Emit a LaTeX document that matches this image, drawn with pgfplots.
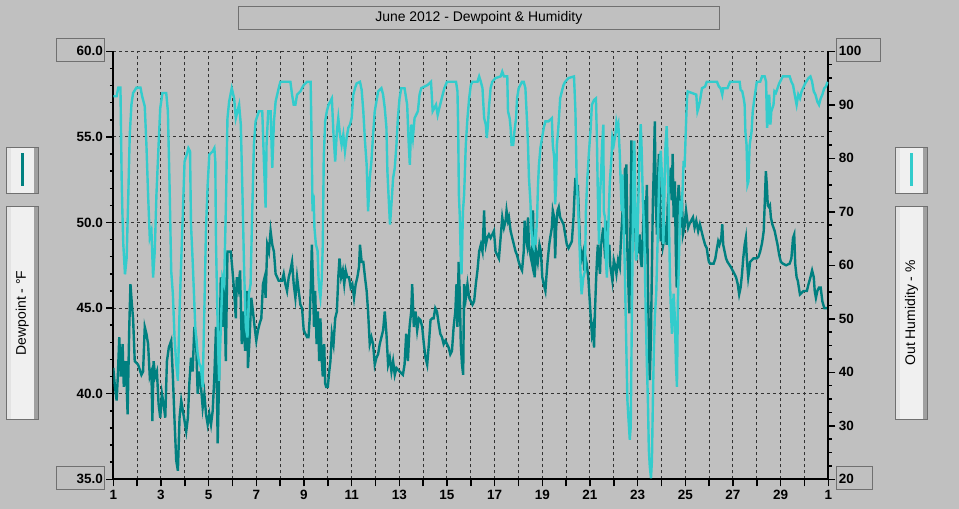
\documentclass[border=0pt]{standalone}
\usepackage{fontspec}
\setmainfont{Liberation Sans}
\usepackage{pgfplots}
\pgfplotsset{compat=1.18}
\usepackage{pgfplotstable}

\definecolor{bg}{HTML}{C0C0C0}
\definecolor{dewcol}{HTML}{008080}
\definecolor{humcol}{HTML}{33CCCC}
\definecolor{boxline}{HTML}{707070}
\definecolor{panel}{HTML}{F0F0F0}
\definecolor{panelL}{HTML}{E3E3E3}
\definecolor{panelD}{HTML}{A0A0A0}

% dewpoint (F), day of month
\pgfplotstableread{
day dew
1.00 41.5
1.07 40.4
1.14 39.6
1.19 41.0
1.25 43.3
1.32 41.0
1.39 42.9
1.44 40.4
1.53 41.9
1.60 38.8
1.67 43.9
1.72 46.4
1.78 45.2
1.83 44.4
1.90 41.9
2.04 41.7
2.18 41.1
2.25 41.3
2.32 43.9
2.39 43.5
2.46 42.9
2.53 41.0
2.60 41.3
2.64 38.4
2.69 41.9
2.76 41.0
2.83 41.3
2.90 39.4
2.97 38.6
3.04 40.0
3.11 39.4
3.18 38.6
3.25 41.9
3.33 42.7
3.43 43.1
3.50 41.0
3.57 38.4
3.64 36.1
3.71 35.5
3.78 38.6
3.85 39.6
3.92 39.0
3.99 38.4
4.06 37.8
4.13 38.6
4.19 40.6
4.26 42.1
4.33 41.3
4.40 43.9
4.47 43.3
4.54 40.0
4.61 41.3
4.68 40.4
4.75 39.2
4.82 40.0
4.89 38.8
4.96 38.2
5.03 38.8
5.10 38.2
5.17 39.0
5.24 41.0
5.31 43.9
5.38 37.1
5.44 41.0
5.51 46.8
5.58 43.9
5.65 46.8
5.72 41.9
5.79 48.3
5.93 48.3
6.00 47.2
6.07 46.0
6.14 44.4
6.18 46.8
6.25 46.2
6.32 47.2
6.39 42.9
6.46 44.8
6.53 42.5
6.60 46.0
6.65 41.5
6.72 43.3
6.79 45.6
6.86 44.8
6.93 43.9
7.00 43.1
7.07 43.7
7.14 44.1
7.21 44.4
7.28 46.4
7.35 46.8
7.39 45.6
7.46 48.7
7.53 48.3
7.60 49.5
7.67 48.7
7.74 48.3
7.81 47.0
7.94 46.6
8.08 46.6
8.15 47.0
8.22 46.4
8.29 46.0
8.36 46.8
8.43 47.2
8.50 47.7
8.57 46.4
8.64 45.6
8.71 46.8
8.78 46.0
8.85 45.2
8.92 45.0
8.99 43.7
9.13 43.3
9.19 43.3
9.24 44.4
9.29 46.4
9.33 48.7
9.38 46.4
9.42 43.9
9.47 46.0
9.53 42.9
9.58 44.8
9.64 41.9
9.69 44.4
9.75 41.9
9.79 41.0
9.85 42.9
9.89 40.6
9.93 40.4
10.00 40.4
10.06 41.3
10.11 41.9
10.17 43.5
10.24 42.9
10.31 44.4
10.38 44.8
10.44 46.8
10.49 47.9
10.56 46.8
10.63 47.2
10.69 46.4
10.75 47.2
10.82 46.8
10.89 46.8
10.96 46.2
11.03 46.4
11.10 45.6
11.17 46.4
11.24 46.8
11.31 47.4
11.35 48.7
11.42 47.7
11.49 47.7
11.56 46.8
11.63 46.0
11.69 44.8
11.76 42.9
11.83 43.3
11.90 42.9
11.97 41.7
12.04 42.1
12.11 42.3
12.18 42.9
12.25 43.3
12.32 43.7
12.39 44.8
12.46 43.5
12.53 41.7
12.60 42.1
12.67 41.3
12.74 41.9
12.81 41.1
12.88 41.5
13.01 41.3
13.15 41.1
13.22 41.7
13.29 43.5
13.36 41.9
13.43 43.9
13.50 44.8
13.54 46.4
13.61 43.9
13.68 44.8
13.75 43.7
13.82 44.4
13.89 44.3
13.96 43.9
14.03 42.9
14.10 42.1
14.17 41.7
14.24 42.9
14.31 44.3
14.38 44.4
14.44 44.4
14.51 45.0
14.58 44.8
14.65 44.1
14.72 43.5
14.79 43.3
14.86 42.9
14.93 43.1
15.00 42.9
15.07 42.7
15.14 42.3
15.21 42.5
15.28 43.9
15.35 44.8
15.40 46.4
15.44 43.9
15.49 47.7
15.54 45.8
15.58 42.9
15.63 41.7
15.68 41.1
15.72 46.4
15.79 45.6
15.86 46.4
15.93 45.6
16.00 45.4
16.07 45.2
16.14 45.4
16.21 46.4
16.28 47.2
16.35 48.3
16.42 48.7
16.49 48.3
16.56 50.7
16.58 49.5
16.63 48.7
16.69 49.1
16.76 49.3
16.83 49.1
16.97 49.5
17.04 48.3
17.11 48.1
17.18 47.9
17.25 49.1
17.32 50.3
17.39 49.7
17.46 50.1
17.50 50.7
17.56 50.1
17.60 50.3
17.67 49.5
17.74 49.1
17.81 48.7
17.88 48.3
17.94 48.1
18.01 47.7
18.08 47.4
18.15 47.2
18.22 48.3
18.26 50.1
18.31 49.1
18.36 48.7
18.40 50.3
18.44 48.7
18.50 48.1
18.57 47.6
18.61 50.7
18.64 47.7
18.68 46.8
18.74 48.3
18.81 47.7
18.88 48.7
18.94 48.3
19.00 46.8
19.06 46.4
19.13 46.0
19.17 46.8
19.22 47.7
19.29 48.7
19.33 49.1
19.40 49.7
19.44 50.7
19.50 50.3
19.54 47.9
19.58 49.7
19.64 50.7
19.69 50.9
19.75 50.3
19.82 50.1
19.89 49.9
19.96 49.3
20.03 48.7
20.10 48.5
20.17 48.7
20.24 48.9
20.31 50.3
20.35 51.6
20.39 52.6
20.44 51.6
20.49 52.2
20.53 50.7
20.58 48.7
20.65 47.9
20.72 48.3
20.76 47.2
20.82 47.9
20.86 47.6
20.93 46.8
21.00 45.2
21.04 44.3
21.08 43.5
21.13 43.9
21.17 42.7
21.21 44.8
21.25 46.4
21.29 47.7
21.33 48.7
21.38 47.7
21.42 47.0
21.46 48.7
21.50 49.1
21.56 49.7
21.60 48.7
21.64 47.9
21.69 50.1
21.72 49.3
21.76 48.2
21.81 48.7
21.85 47.5
21.94 46.6
22.00 47.8
22.07 47.4
22.11 47.0
22.18 47.8
22.25 47.4
22.29 48.7
22.33 49.7
22.39 51.3
22.43 51.7
22.47 53.2
22.50 49.3
22.53 53.4
22.57 48.4
22.61 46.4
22.65 44.7
22.69 48.7
22.74 54.8
22.78 49.3
22.81 53.2
22.85 54.2
22.89 50.3
22.94 47.8
22.99 48.9
23.03 48.2
23.08 49.3
23.13 47.8
23.17 47.4
23.22 49.3
23.26 51.3
23.31 48.2
23.35 50.9
23.39 52.2
23.43 46.4
23.47 43.5
23.51 40.8
23.56 43.5
23.60 47.4
23.64 51.3
23.68 53.2
23.72 55.9
23.76 51.3
23.81 49.3
23.85 52.2
23.89 54.0
23.93 51.3
23.97 48.9
24.01 49.7
24.06 48.6
24.10 48.9
24.14 49.7
24.18 49.3
24.22 48.7
24.26 50.9
24.31 52.2
24.35 51.7
24.39 53.2
24.43 51.3
24.47 54.0
24.51 50.3
24.56 52.4
24.60 48.4
24.64 46.2
24.68 51.3
24.72 52.2
24.76 51.3
24.81 49.7
24.86 51.3
24.90 49.3
24.96 49.7
25.00 50.3
25.03 50.7
25.12 49.7
25.17 49.9
25.32 50.3
25.39 49.7
25.46 50.1
25.54 49.5
25.61 49.9
25.68 49.5
25.75 49.1
25.83 48.7
25.90 48.5
25.94 48.1
25.99 47.7
26.04 47.6
26.19 47.6
26.26 47.9
26.33 48.5
26.38 48.9
26.43 48.7
26.51 49.1
26.55 49.9
26.59 48.7
26.65 48.3
26.71 47.9
26.77 47.7
26.91 47.4
27.06 47.0
27.13 46.8
27.20 46.4
27.26 45.8
27.32 46.2
27.38 47.0
27.43 47.9
27.49 48.7
27.54 49.1
27.58 47.9
27.64 46.8
27.68 47.2
27.72 47.7
27.86 47.9
28.00 47.9
28.07 48.0
28.14 48.3
28.22 48.8
28.29 49.5
28.33 51.0
28.38 53.0
28.42 52.2
28.46 51.0
28.51 50.9
28.55 51.0
28.59 50.3
28.65 49.9
28.70 49.7
28.75 49.5
28.81 49.1
28.87 48.7
28.94 48.1
29.01 47.7
29.09 47.6
29.23 47.5
29.38 47.6
29.45 47.9
29.52 49.1
29.57 49.3
29.61 47.6
29.67 46.8
29.72 46.6
29.81 45.8
29.96 46.0
30.10 46.0
30.17 46.4
30.25 46.8
30.32 47.2
30.39 46.8
30.43 46.0
30.48 45.6
30.54 46.0
30.61 46.2
30.68 46.2
30.75 45.4
30.83 45.0
30.90 45.0
30.97 45.0
}\dewtable

% outside humidity (%), day of month
\pgfplotstableread{
day hum
1.00 91.6
1.14 91.6
1.21 93.2
1.30 93.2
1.35 76.3
1.38 70.1
1.42 63.9
1.49 58.3
1.56 61.4
1.63 73.2
1.69 84.4
1.76 90.0
1.83 92.2
1.97 93.2
2.14 93.2
2.21 91.6
2.32 89.7
2.39 82.5
2.46 73.2
2.53 65.2
2.60 66.4
2.67 57.7
2.74 62.7
2.81 73.2
2.90 82.5
2.97 89.4
3.06 92.2
3.22 92.2
3.29 88.8
3.36 75.1
3.43 58.9
3.50 54.6
3.57 46.5
3.64 41.6
3.71 38.4
3.78 51.5
3.85 60.8
3.92 70.1
3.99 79.4
4.08 80.7
4.15 81.9
4.22 81.3
4.26 67.6
4.33 60.8
4.44 48.4
4.54 43.4
4.61 41.6
4.68 40.9
4.75 37.2
4.82 51.5
4.89 67.0
4.96 75.1
5.03 80.7
5.17 81.3
5.24 81.9
5.28 79.4
5.31 63.9
5.38 48.4
5.44 38.4
5.51 48.4
5.58 57.7
5.65 56.5
5.72 70.1
5.79 87.5
5.86 90.6
5.97 93.1
6.07 91.2
6.14 87.5
6.21 88.8
6.28 90.0
6.35 86.3
6.42 73.2
6.49 58.9
6.56 48.4
6.63 46.5
6.69 54.6
6.76 56.5
6.83 70.1
6.90 82.5
6.97 86.9
7.11 88.8
7.25 88.8
7.32 79.4
7.39 70.8
7.43 82.5
7.50 88.8
7.60 88.8
7.67 78.2
7.74 86.9
7.81 90.6
7.94 93.1
8.01 94.3
8.43 94.3
8.50 91.9
8.57 90.0
8.64 90.0
8.71 91.9
8.85 92.5
8.99 93.7
9.13 94.3
9.28 94.3
9.31 86.3
9.36 70.1
9.40 73.2
9.44 67.0
9.50 63.9
9.57 62.7
9.61 57.7
9.65 55.2
9.69 53.9
9.75 57.7
9.79 63.9
9.83 80.1
9.89 86.9
9.96 88.8
10.03 90.0
10.17 91.2
10.24 84.4
10.31 79.4
10.38 85.0
10.44 87.5
10.51 84.4
10.58 82.5
10.65 84.4
10.72 81.3
10.79 83.8
10.86 85.7
10.93 86.3
11.00 87.5
11.07 91.9
11.14 93.1
11.21 94.0
11.35 94.3
11.42 92.8
11.49 88.8
11.56 83.2
11.63 78.8
11.67 73.2
11.69 70.1
11.76 76.3
11.83 79.4
11.90 84.4
11.97 88.8
12.04 90.6
12.11 92.5
12.25 93.1
12.32 91.9
12.39 89.4
12.46 85.7
12.50 77.6
12.56 72.0
12.61 67.6
12.67 71.4
12.74 76.3
12.81 78.2
12.88 82.5
12.94 87.5
13.01 91.2
13.08 93.1
13.22 93.1
13.33 90.0
13.39 83.2
13.44 78.8
13.50 86.3
13.57 83.8
13.64 87.5
13.78 88.8
13.85 91.9
13.92 93.1
14.19 93.7
14.33 94.3
14.40 88.8
14.47 89.4
14.54 90.0
14.61 88.1
14.68 89.4
14.82 91.9
14.89 93.1
15.00 94.3
15.38 94.3
15.44 92.5
15.47 85.7
15.50 73.2
15.54 68.9
15.58 60.8
15.61 58.3
15.67 70.1
15.72 73.2
15.79 82.5
15.86 87.5
15.93 91.2
16.00 93.7
16.07 94.3
16.28 94.3
16.35 95.3
16.42 94.3
16.49 93.1
16.56 87.5
16.63 86.3
16.67 83.8
16.72 86.3
16.76 89.4
16.83 93.1
16.90 94.3
17.04 95.0
17.25 95.3
17.32 96.2
17.39 95.3
17.53 95.3
17.56 88.8
17.63 87.5
17.67 85.7
17.71 82.5
17.78 82.5
17.83 85.0
17.90 87.5
17.94 91.2
18.01 93.1
18.15 94.3
18.22 94.3
18.29 93.1
18.36 86.9
18.40 82.5
18.44 76.3
18.50 72.0
18.54 67.0
18.58 63.9
18.64 63.3
18.68 65.2
18.72 63.9
18.78 68.9
18.82 75.1
18.86 78.8
18.92 81.9
18.99 83.8
19.06 85.7
19.13 86.9
19.26 86.9
19.40 87.5
19.44 82.5
19.50 80.1
19.54 71.4
19.58 75.1
19.61 82.5
19.65 84.4
19.69 86.9
19.75 91.2
19.82 92.5
19.89 93.7
19.96 94.3
20.10 95.0
20.33 95.3
20.39 88.8
20.44 76.3
20.51 70.1
20.56 63.9
20.61 57.7
20.65 54.6
20.72 57.7
20.79 58.9
20.83 70.1
20.89 76.3
20.96 81.3
21.03 85.7
21.08 90.0
21.17 90.9
21.25 91.2
21.29 83.8
21.33 73.2
21.38 63.9
21.42 73.2
21.46 76.3
21.51 82.5
21.56 86.3
21.58 70.1
21.63 68.9
21.67 60.8
21.71 57.7
21.76 65.9
21.83 75.2
21.90 80.1
21.94 83.9
22.00 82.6
22.07 84.5
22.11 86.7
22.15 85.7
22.19 86.4
22.25 80.8
22.29 75.2
22.33 70.2
22.36 77.0
22.39 72.1
22.46 59.7
22.50 50.3
22.53 43.5
22.57 34.8
22.61 31.7
22.67 27.4
22.71 29.8
22.75 47.2
22.78 59.7
22.82 77.0
22.86 83.3
22.90 72.1
22.94 60.9
22.99 64.6
23.03 72.1
23.08 81.4
23.13 86.4
23.17 81.4
23.22 72.1
23.28 65.9
23.33 53.4
23.39 41.0
23.43 34.8
23.47 25.5
23.51 22.4
23.56 20.2
23.60 23.6
23.64 34.8
23.68 44.1
23.72 50.3
23.78 54.7
23.82 61.5
23.88 72.1
23.92 78.3
23.97 81.4
24.03 75.8
24.08 64.0
24.13 75.2
24.17 82.6
24.22 86.0
24.26 79.5
24.31 70.2
24.36 56.5
24.40 51.0
24.44 47.2
24.47 50.3
24.51 54.7
24.56 50.3
24.61 41.0
24.65 37.3
24.69 53.4
24.75 64.0
24.79 72.1
24.83 69.0
24.89 74.6
24.93 79.5
24.97 78.3
25.03 86.4
25.07 91.2
25.10 92.5
25.46 91.9
25.51 88.8
25.55 89.4
25.61 90.6
25.70 93.1
25.83 93.4
25.90 94.3
26.33 94.3
26.41 93.4
26.48 93.1
26.55 91.9
26.59 93.1
26.77 93.1
26.88 94.3
27.28 94.3
27.32 92.8
27.39 92.5
27.45 91.2
27.49 90.0
27.52 85.0
27.57 82.5
27.61 75.1
27.65 75.7
27.70 82.5
27.78 85.0
27.83 88.8
27.90 91.2
27.96 93.1
28.00 94.3
28.14 94.3
28.22 95.3
28.33 95.3
28.39 94.3
28.43 85.7
28.48 87.5
28.52 91.9
28.57 86.3
28.61 88.8
28.70 90.0
28.74 92.5
28.80 92.2
28.87 93.1
28.94 94.0
29.09 95.3
29.38 95.3
29.45 94.3
29.52 93.7
29.59 91.9
29.67 90.0
29.74 91.9
29.81 91.2
29.88 92.5
30.03 94.0
30.17 95.0
30.25 95.3
30.32 94.3
30.39 92.5
30.46 91.9
30.54 90.6
30.61 90.0
30.68 91.2
30.75 91.9
30.83 93.1
30.90 93.4
30.97 94.3
}\humtable

\pgfplotsset{
  chartbase/.style={
    scale only axis, width=715bp, height=428bp,
    xmin=1, xmax=31,
    tick align=outside,
    major tick length=7bp, minor tick length=3.5bp,
    tick style={black, line width=1.5bp},
    axis line style={black, line width=2bp, -},
    /pgf/number format/assume math mode=true,
    tick label style={font=\fontsize{13.5}{15}\selectfont\bfseries},
  },
}

\begin{document}
\begin{tikzpicture}
% pixel frame: (0,0) is the top left corner of the picture
\begin{scope}[shift={(-113.3bp,479.3bp)}, x=1bp, y=-1bp]
  \fill[bg] (0,0) rectangle (959,509);
\end{scope}

\begin{axis}[chartbase,
  ymin=35, ymax=60,
  axis x line*=bottom, axis y line*=left,
  xtick={1,...,31},
  xticklabels={1,,3,,5,,7,,9,,11,,13,,15,,17,,19,,21,,23,,25,,27,,29,,1},
  ytick={35,40,...,60}, minor y tick num=4,
  yticklabel style={/pgf/number format/.cd, fixed, fixed zerofill, precision=1},
  xmajorgrids, ymajorgrids,
  major grid style={black!80, line width=1bp, dash pattern=on 3bp off 3bp},
]
\addplot[dewcol, line width=2.4bp] table[x=day, y=dew] {\dewtable};
\end{axis}

\begin{axis}[chartbase,
  ymin=20, ymax=100,
  axis x line=none, axis y line*=right,
  ytick={20,30,...,100}, minor y tick num=3,
]
\addplot[humcol, line width=2.4bp] table[x=day, y=hum] {\humtable};
\end{axis}

\begin{scope}[shift={(-113.3bp,479.3bp)}, x=1bp, y=-1bp]
  % title
  \draw[boxline, line width=1bp] (238.3,6.3) rectangle (719.3,30);
  \node[font=\fontsize{14}{16}\selectfont] at (478.8,18.2) {June 2012 - Dewpoint \& Humidity};
  % boxes round the end tick labels
  \draw[boxline, line width=1bp] (56.3,38.3) rectangle (104.7,61.3);
  \draw[boxline, line width=1bp] (56.3,466.3) rectangle (104.7,489.3);
  \draw[boxline, line width=1bp] (836.3,38.3) rectangle (880.3,61.3);
  \draw[boxline, line width=1bp] (836.3,466.3) rectangle (872.7,489.3);
  % side panels
  \foreach \xa/\xb in {6.3/38.3, 895.3/927.7} {
    \foreach \ya/\yb in {147.3/193.3, 206.3/419.3} {
      \fill[panel] (\xa,\ya) rectangle (\xb,\yb);
      \fill[panelL] (\xa+0.5,\ya+0.5) rectangle (\xa+4.5,\yb-0.5);
      \fill[panelD] (\xb-4.3,\ya+0.5) rectangle (\xb-0.5,\yb-0.5);
      \draw[boxline, line width=1bp] (\xa,\ya) rectangle (\xb,\yb);
    }
  }
  \draw[dewcol, line width=2.5bp] (22.3,153.3) -- (22.3,186.3);
  \draw[humcol, line width=2.5bp] (911.7,153.3) -- (911.7,186.3);
  \node[rotate=90, font=\fontsize{14}{16}\selectfont] at (22.3,312.8) {Dewpoint - °F};
  \node[rotate=90, font=\fontsize{14}{16}\selectfont] at (911.5,312.8) {Out Humidity - \%};
\end{scope}
\end{tikzpicture}
\end{document}
